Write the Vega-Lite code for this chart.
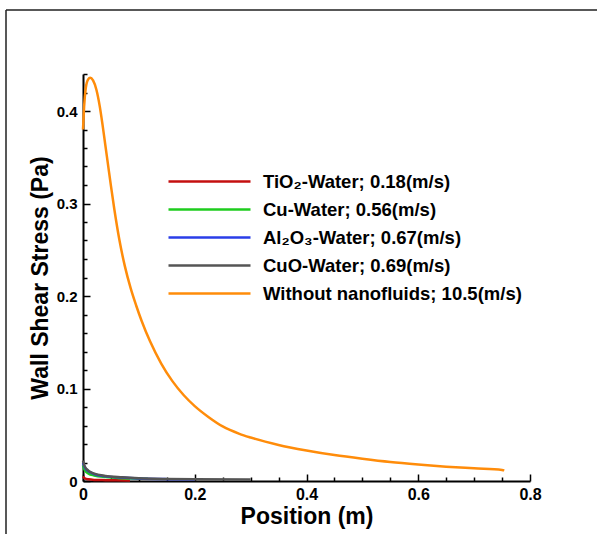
{
  "$schema": "https://vega.github.io/schema/vega-lite/v6.json",
  "width": 591,
  "height": 524,
  "autosize": {"type": "none"},
  "padding": {"left": 6, "top": 10, "right": 0, "bottom": 0},
  "background": "white",
  "config": {
    "view": {"stroke": "#222222", "strokeWidth": 1.5, "strokeDash": [591, 1115, 524, 0]},
    "font": "Liberation Sans"
  },
  "data": {
    "values": [
      {"series": "TiO₂-Water; 0.18(m/s)", "x": 0, "y": 0.005},
      {"series": "TiO₂-Water; 0.18(m/s)", "x": 0.003, "y": 0.003},
      {"series": "TiO₂-Water; 0.18(m/s)", "x": 0.01, "y": 0.0018},
      {"series": "TiO₂-Water; 0.18(m/s)", "x": 0.02, "y": 0.0012},
      {"series": "TiO₂-Water; 0.18(m/s)", "x": 0.04, "y": 0.0009},
      {"series": "TiO₂-Water; 0.18(m/s)", "x": 0.06, "y": 0.0007},
      {"series": "TiO₂-Water; 0.18(m/s)", "x": 0.084, "y": 0.0006},

      {"series": "Cu-Water; 0.56(m/s)", "x": 0, "y": 0.017},
      {"series": "Cu-Water; 0.56(m/s)", "x": 0.003, "y": 0.012},
      {"series": "Cu-Water; 0.56(m/s)", "x": 0.01, "y": 0.008},
      {"series": "Cu-Water; 0.56(m/s)", "x": 0.02, "y": 0.006},
      {"series": "Cu-Water; 0.56(m/s)", "x": 0.04, "y": 0.0042},
      {"series": "Cu-Water; 0.56(m/s)", "x": 0.07, "y": 0.003},
      {"series": "Cu-Water; 0.56(m/s)", "x": 0.1, "y": 0.0025},
      {"series": "Cu-Water; 0.56(m/s)", "x": 0.116, "y": 0.0023},

      {"series": "Al₂O₃-Water; 0.67(m/s)", "x": 0, "y": 0.02},
      {"series": "Al₂O₃-Water; 0.67(m/s)", "x": 0.003, "y": 0.015},
      {"series": "Al₂O₃-Water; 0.67(m/s)", "x": 0.01, "y": 0.0105},
      {"series": "Al₂O₃-Water; 0.67(m/s)", "x": 0.02, "y": 0.0075},
      {"series": "Al₂O₃-Water; 0.67(m/s)", "x": 0.04, "y": 0.005},
      {"series": "Al₂O₃-Water; 0.67(m/s)", "x": 0.07, "y": 0.0037},
      {"series": "Al₂O₃-Water; 0.67(m/s)", "x": 0.1, "y": 0.0028},
      {"series": "Al₂O₃-Water; 0.67(m/s)", "x": 0.15, "y": 0.002},
      {"series": "Al₂O₃-Water; 0.67(m/s)", "x": 0.2, "y": 0.0016},

      {"series": "CuO-Water; 0.69(m/s)", "x": 0, "y": 0.022},
      {"series": "CuO-Water; 0.69(m/s)", "x": 0.003, "y": 0.016},
      {"series": "CuO-Water; 0.69(m/s)", "x": 0.01, "y": 0.011},
      {"series": "CuO-Water; 0.69(m/s)", "x": 0.02, "y": 0.008},
      {"series": "CuO-Water; 0.69(m/s)", "x": 0.04, "y": 0.0055},
      {"series": "CuO-Water; 0.69(m/s)", "x": 0.07, "y": 0.004},
      {"series": "CuO-Water; 0.69(m/s)", "x": 0.1, "y": 0.003},
      {"series": "CuO-Water; 0.69(m/s)", "x": 0.15, "y": 0.0022},
      {"series": "CuO-Water; 0.69(m/s)", "x": 0.2, "y": 0.0018},
      {"series": "CuO-Water; 0.69(m/s)", "x": 0.3, "y": 0.0015},

      {"series": "Without nanofluids; 10.5(m/s)", "x": 0, "y": 0.38},
      {"series": "Without nanofluids; 10.5(m/s)", "x": 0.002, "y": 0.405},
      {"series": "Without nanofluids; 10.5(m/s)", "x": 0.005, "y": 0.425},
      {"series": "Without nanofluids; 10.5(m/s)", "x": 0.009, "y": 0.434},
      {"series": "Without nanofluids; 10.5(m/s)", "x": 0.013, "y": 0.436},
      {"series": "Without nanofluids; 10.5(m/s)", "x": 0.018, "y": 0.433},
      {"series": "Without nanofluids; 10.5(m/s)", "x": 0.024, "y": 0.423},
      {"series": "Without nanofluids; 10.5(m/s)", "x": 0.03, "y": 0.405},
      {"series": "Without nanofluids; 10.5(m/s)", "x": 0.035, "y": 0.385},
      {"series": "Without nanofluids; 10.5(m/s)", "x": 0.04, "y": 0.363},
      {"series": "Without nanofluids; 10.5(m/s)", "x": 0.045, "y": 0.341},
      {"series": "Without nanofluids; 10.5(m/s)", "x": 0.05, "y": 0.319},
      {"series": "Without nanofluids; 10.5(m/s)", "x": 0.056, "y": 0.294},
      {"series": "Without nanofluids; 10.5(m/s)", "x": 0.065, "y": 0.261},
      {"series": "Without nanofluids; 10.5(m/s)", "x": 0.075, "y": 0.232},
      {"series": "Without nanofluids; 10.5(m/s)", "x": 0.085, "y": 0.209},
      {"series": "Without nanofluids; 10.5(m/s)", "x": 0.095, "y": 0.19},
      {"series": "Without nanofluids; 10.5(m/s)", "x": 0.105, "y": 0.173},
      {"series": "Without nanofluids; 10.5(m/s)", "x": 0.12, "y": 0.151},
      {"series": "Without nanofluids; 10.5(m/s)", "x": 0.14, "y": 0.127},
      {"series": "Without nanofluids; 10.5(m/s)", "x": 0.16, "y": 0.108},
      {"series": "Without nanofluids; 10.5(m/s)", "x": 0.18, "y": 0.093},
      {"series": "Without nanofluids; 10.5(m/s)", "x": 0.2, "y": 0.081},
      {"series": "Without nanofluids; 10.5(m/s)", "x": 0.225, "y": 0.069},
      {"series": "Without nanofluids; 10.5(m/s)", "x": 0.25, "y": 0.059},
      {"series": "Without nanofluids; 10.5(m/s)", "x": 0.28, "y": 0.051},
      {"series": "Without nanofluids; 10.5(m/s)", "x": 0.3, "y": 0.047},
      {"series": "Without nanofluids; 10.5(m/s)", "x": 0.35, "y": 0.039},
      {"series": "Without nanofluids; 10.5(m/s)", "x": 0.4, "y": 0.033},
      {"series": "Without nanofluids; 10.5(m/s)", "x": 0.45, "y": 0.028},
      {"series": "Without nanofluids; 10.5(m/s)", "x": 0.5, "y": 0.024},
      {"series": "Without nanofluids; 10.5(m/s)", "x": 0.55, "y": 0.0205},
      {"series": "Without nanofluids; 10.5(m/s)", "x": 0.6, "y": 0.0178},
      {"series": "Without nanofluids; 10.5(m/s)", "x": 0.65, "y": 0.0155},
      {"series": "Without nanofluids; 10.5(m/s)", "x": 0.7, "y": 0.0137},
      {"series": "Without nanofluids; 10.5(m/s)", "x": 0.75, "y": 0.012},
      {"series": "Without nanofluids; 10.5(m/s)", "x": 0.754, "y": 0.0115}
    ]
  },
  "mark": {"type": "line", "strokeWidth": 2.5, "interpolate": "monotone"},
  "encoding": {
    "x": {
      "field": "x",
      "type": "quantitative",
      "scale": {"domain": [0, 0.8], "range": [77, 524], "nice": false, "zero": false},
      "axis": {
        "orient": "bottom",
        "offset": -53,
        "title": "Position (m)",
        "titleFont": "Liberation Sans",
        "titleFontSize": 23,
        "titleFontWeight": "bold",
        "titleColor": "black",
        "titlePadding": 0,
        "values": [0, 0.05, 0.1, 0.15, 0.2, 0.25, 0.3, 0.35, 0.4, 0.45, 0.5, 0.55, 0.6, 0.65, 0.7, 0.75, 0.8],
        "labelExpr": "abs(datum.value * 5 - round(datum.value * 5)) < 1e-6 ? (datum.value == 0 ? '0' : format(datum.value, '.1f')) : ''",
        "labelFont": "Liberation Sans",
        "labelFontSize": 16,
        "labelFontWeight": "bold",
        "labelColor": "black",
        "labelPadding": 12,
        "labelFlush": false,
        "labelOverlap": false,
        "domainColor": "black",
        "domainWidth": 2,
        "tickColor": "black",
        "tickWidth": 1.5,
        "tickSize": {"condition": {"test": "abs(datum.value * 5 - round(datum.value * 5)) < 1e-6", "value": -7}, "value": -4},
        "grid": false
      }
    },
    "y": {
      "field": "y",
      "type": "quantitative",
      "scale": {"domain": [0, 0.44], "range": [471, 64], "nice": false, "zero": false},
      "axis": {
        "orient": "left",
        "offset": -77,
        "title": "Wall Shear Stress (Pa)",
        "titleFont": "Liberation Sans",
        "titleFontSize": 23,
        "titleFontWeight": "bold",
        "titleColor": "black",
        "titlePadding": 4,
        "values": [0, 0.02, 0.04, 0.06, 0.08, 0.1, 0.12, 0.14, 0.16, 0.18, 0.2, 0.22, 0.24, 0.26, 0.28, 0.3, 0.32, 0.34, 0.36, 0.38, 0.4, 0.42, 0.44],
        "labelExpr": "abs(datum.value * 10 - round(datum.value * 10)) < 1e-6 ? (datum.value == 0 ? '0' : format(datum.value, '.1f')) : ''",
        "labelFont": "Liberation Sans",
        "labelFontSize": 15,
        "labelFontWeight": "bold",
        "labelColor": "black",
        "labelPadding": 13,
        "labelFlush": false,
        "labelOverlap": false,
        "domainColor": "black",
        "domainWidth": 2,
        "tickColor": "black",
        "tickWidth": 1.5,
        "tickSize": {"condition": {"test": "abs(datum.value * 10 - round(datum.value * 10)) < 1e-6", "value": -7}, "value": -4},
        "grid": false
      }
    },
    "color": {
      "field": "series",
      "type": "nominal",
      "scale": {
        "domain": ["TiO₂-Water; 0.18(m/s)", "Cu-Water; 0.56(m/s)", "Al₂O₃-Water; 0.67(m/s)", "CuO-Water; 0.69(m/s)", "Without nanofluids; 10.5(m/s)"],
        "range": ["#c40f0f", "#1ecc1e", "#2a3ee8", "#555555", "#ff8c0a"]
      },
      "legend": {
        "title": null,
        "orient": "none",
        "legendX": 161,
        "legendY": 163,
        "symbolType": "stroke",
        "symbolSize": 6724,
        "symbolStrokeWidth": 2.5,
        "clipHeight": 17,
        "labelFont": "Liberation Sans",
        "labelFontSize": 18.5,
        "labelFontWeight": "bold",
        "labelColor": "black",
        "labelOffset": 11,
        "labelLimit": 400,
        "rowPadding": 9,
        "padding": 0
      }
    },
    "order": {"field": "x", "type": "quantitative"}
  }
}
